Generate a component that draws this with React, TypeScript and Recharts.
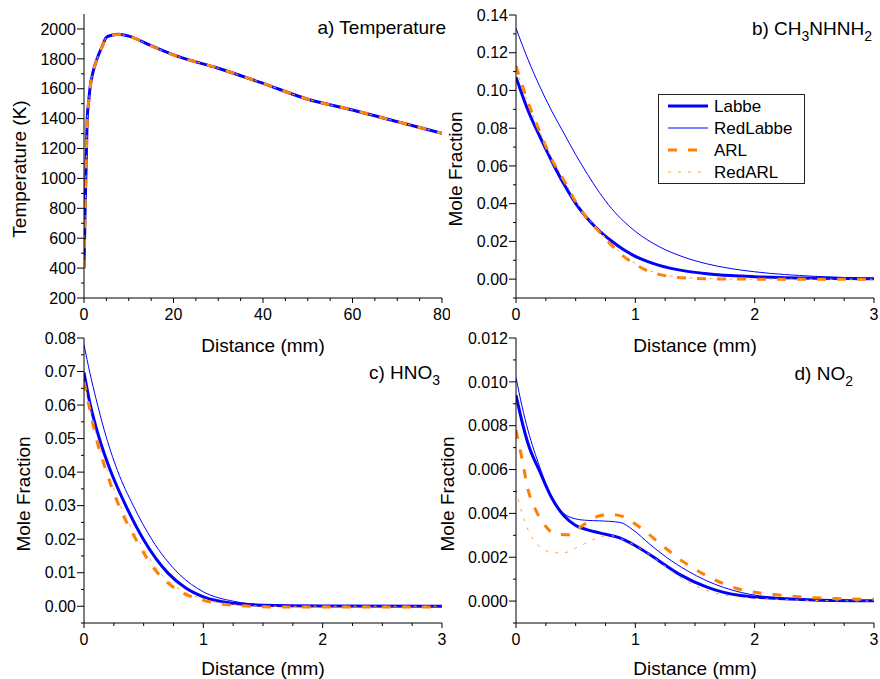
import { Legend, Line, LineChart, XAxis, YAxis } from 'recharts';

type Pt = { x: number; y: number };
const zip = (xs: number[], ys: number[]): Pt[] => xs.map((x, i) => ({ x, y: ys[i] }));

// a) Temperature (K) vs distance (mm) - all four mechanisms overlap
const tempDist = [0, 0.1, 0.25, 0.45, 0.74, 1.0, 1.34, 2.0, 2.83, 4.0, 5.0, 6.0, 7.7, 10, 15, 20, 30, 40, 50, 60, 70, 80];
const tempLabbe = [400, 550, 800, 1050, 1413, 1500, 1603, 1710, 1793, 1880, 1944, 1956, 1964, 1952, 1888, 1826, 1737, 1636, 1530, 1458, 1380, 1302];
const tempRedLabbe = [400, 550, 800, 1050, 1413, 1500, 1603, 1710, 1793, 1880, 1944, 1956, 1963, 1951, 1887, 1825, 1736, 1635, 1529, 1457, 1380, 1301];
const tempARL = [400, 545, 795, 1045, 1410, 1498, 1601, 1708, 1792, 1879, 1943, 1955, 1963, 1951, 1887, 1826, 1737, 1636, 1530, 1458, 1380, 1302];
const tempRedARL = [400, 545, 795, 1045, 1410, 1498, 1601, 1708, 1792, 1879, 1943, 1955, 1963, 1951, 1887, 1826, 1737, 1636, 1530, 1458, 1380, 1302];

// b) CH3NHNH2
const mmhLabbeX = [0, 0.1, 0.2, 0.3, 0.4, 0.5, 0.6, 0.7, 0.8, 0.9, 1.0, 1.1, 1.2, 1.4, 1.6, 1.8, 2.0, 2.5, 3.0];
const mmhLabbeY = [0.107, 0.0895, 0.0755, 0.0625, 0.0505, 0.0402, 0.032, 0.0255, 0.0202, 0.0157, 0.0121, 0.0094, 0.0073, 0.0045, 0.0029, 0.0019, 0.0013, 0.0005, 0.0002];
const mmhRedLabbeX = [0, 0.1, 0.2, 0.3, 0.4, 0.5, 0.6, 0.7, 0.8, 0.9, 1.0, 1.2, 1.4, 1.6, 1.8, 2.0, 2.5, 3.0];
const mmhRedLabbeY = [0.133, 0.1165, 0.102, 0.089, 0.0775, 0.066, 0.0555, 0.0458, 0.0375, 0.0308, 0.0253, 0.0172, 0.0118, 0.0081, 0.0056, 0.0039, 0.0015, 0.0005];
const mmhARLX = [0, 0.1, 0.2, 0.3, 0.4, 0.5, 0.6, 0.7, 0.8, 0.9, 1.0, 1.1, 1.2, 1.3, 1.45, 1.7, 2.0, 3.0];
const mmhARLY = [0.113, 0.094, 0.078, 0.0635, 0.0525, 0.041, 0.032, 0.025, 0.018, 0.0122, 0.0078, 0.0045, 0.0025, 0.0013, 0.0005, 0.0001, 0, 0];
const mmhRedARLX = [0, 0.1, 0.2, 0.3, 0.4, 0.5, 0.6, 0.7, 0.8, 0.9, 1.0, 1.1, 1.2, 1.3, 1.45, 1.7, 2.0, 3.0];
const mmhRedARLY = [0.112, 0.0935, 0.078, 0.064, 0.053, 0.0415, 0.0325, 0.0255, 0.0186, 0.0128, 0.0083, 0.005, 0.0029, 0.0016, 0.0007, 0.0002, 0, 0];

// c) HNO3
const hnoLabbeX = [0, 0.05, 0.1, 0.17, 0.232, 0.357, 0.497, 0.706, 0.85, 1.0, 1.25, 1.5, 2.0, 3.0];
const hnoLabbeY = [0.0697, 0.0605, 0.0535, 0.0455, 0.0395, 0.0295, 0.02, 0.0098, 0.0055, 0.0028, 0.0009, 0.0003, 0.0001, 0];
const hnoRedLabbeX = [0, 0.05, 0.1, 0.17, 0.28, 0.413, 0.567, 0.8, 1.0, 1.25, 1.5, 2.0, 3.0];
const hnoRedLabbeY = [0.078, 0.0695, 0.062, 0.0525, 0.0405, 0.03, 0.02, 0.0095, 0.0043, 0.0015, 0.0005, 0.0001, 0];
const hnoARLX = [0, 0.05, 0.1, 0.184, 0.293, 0.442, 0.609, 0.8, 1.0, 1.25, 1.6, 3.0];
const hnoARLY = [0.067, 0.0585, 0.0505, 0.0405, 0.03, 0.0195, 0.0103, 0.0045, 0.0018, 0.0003, -0.0002, -0.0002];
const hnoRedARLX = [0, 0.05, 0.1, 0.195, 0.305, 0.46, 0.63, 0.82, 1.02, 1.27, 1.6, 3.0];
const hnoRedARLY = [0.067, 0.059, 0.0515, 0.0405, 0.03, 0.0195, 0.0103, 0.0047, 0.002, 0.0004, 0, 0];

// d) NO2
const no2LabbeX = [0, 0.05, 0.1, 0.2, 0.3, 0.4, 0.5, 0.6, 0.7, 0.87, 1.04, 1.2, 1.37, 1.6, 1.88, 2.2, 2.5, 3.0];
const no2LabbeY = [0.0094, 0.0082, 0.0072, 0.0059, 0.0047, 0.0039, 0.00345, 0.00325, 0.00311, 0.00288, 0.0024, 0.00183, 0.00122, 0.00064, 0.00025, 0.00012, 0.00005, 0.00001];
const no2RedLabbeX = [0, 0.05, 0.1, 0.2, 0.3, 0.4, 0.5, 0.6, 0.7, 0.87, 0.98, 1.12, 1.26, 1.43, 1.6, 1.88, 2.2, 2.5, 3.0];
const no2RedLabbeY = [0.0102, 0.0089, 0.0078, 0.0061, 0.0047, 0.004, 0.00375, 0.00368, 0.00366, 0.00359, 0.00325, 0.0026, 0.002, 0.0014, 0.00092, 0.0004, 0.00015, 0.00006, 0.00001];
const no2ARLX = [0, 0.05, 0.1, 0.17, 0.25, 0.33, 0.45, 0.52, 0.6, 0.7, 0.8, 0.87, 1.05, 1.22, 1.4, 1.6, 1.88, 2.16, 2.43, 2.71, 3.0];
const no2ARLY = [0.0078, 0.0065, 0.0051, 0.0041, 0.0034, 0.00305, 0.00302, 0.0033, 0.0036, 0.00389, 0.00395, 0.0039, 0.00332, 0.00256, 0.0018, 0.00115, 0.00053, 0.0003, 0.00017, 0.00011, 0.00008];
const no2RedARLX = [0, 0.03, 0.075, 0.145, 0.23, 0.31, 0.4, 0.5, 0.62, 0.72, 0.8, 0.9, 1.04, 1.2, 1.37, 1.6, 1.88, 2.2, 2.5, 3.0];
const no2RedARLY = [0.0051, 0.0044, 0.0036, 0.0028, 0.00237, 0.0022, 0.0022, 0.00242, 0.00273, 0.00295, 0.00298, 0.0028, 0.0024, 0.0018, 0.0011, 0.00048, 0.00018, 0.00008, 0.00003, 0];

// axis ticks
const tempXMajor = [0, 20, 40, 60, 80];
const tempYMajor = [200, 400, 600, 800, 1000, 1200, 1400, 1600, 1800, 2000];
const distMajor = [0, 1, 2, 3];
const mmhYMajor = [0, 0.02, 0.04, 0.06, 0.08, 0.1, 0.12, 0.14];
const hnoYMajor = [0, 0.01, 0.02, 0.03, 0.04, 0.05, 0.06, 0.07, 0.08];
const no2YMajor = [0, 0.002, 0.004, 0.006, 0.008, 0.01, 0.012];

const FONT = '"Liberation Sans", Arial, sans-serif';
const BLUE = '#0000FF';
const ORANGE = '#FF8000';
const LIGHT_ORANGE = '#FFA040';

const minors = (major: number[], per: number, extra: number[] = []) => {
  const out: number[] = [...extra];
  for (let i = 0; i < major.length - 1; i++) {
    for (let k = 1; k < per; k++) {
      out.push(Number((major[i] + ((major[i + 1] - major[i]) * k) / per).toFixed(6)));
    }
  }
  return out;
};

const isMajor = (v: number, major: number[]) => major.some((m) => Math.abs(m - v) < 1e-9);

function xTick(major: number[]) {
  return (p: any) => {
    const v = p.payload.value;
    const big = isMajor(v, major);
    return (
      <g>
        <line x1={p.x} x2={p.x} y1={p.y} y2={p.y + (big ? 5 : 3)} stroke="#000" />
        {big && (
          <text x={p.x} y={p.y + 22} textAnchor="middle" fontSize={16} fontFamily={FONT} fill="#000">
            {String(v)}
          </text>
        )}
      </g>
    );
  };
}

function yTick(major: number[], fmt: (v: number) => string) {
  return (p: any) => {
    const v = p.payload.value;
    const big = isMajor(v, major);
    return (
      <g>
        <line x1={p.x - (big ? 7 : 3)} x2={p.x} y1={p.y} y2={p.y} stroke="#000" />
        {big && (
          <text x={p.x - 8} y={p.y} dy="0.36em" textAnchor="end" fontSize={16} fontFamily={FONT} fill="#000">
            {fmt(v)}
          </text>
        )}
      </g>
    );
  };
}

type Series = { name: string; data: Pt[] };

const styles: Record<string, { stroke: string; width: number; dash?: string }> = {
  Labbe: { stroke: BLUE, width: 3 },
  RedLabbe: { stroke: BLUE, width: 1 },
  ARL: { stroke: ORANGE, width: 3, dash: '9 11' },
  RedARL: { stroke: LIGHT_ORANGE, width: 1, dash: '3 7' },
};

function LegendBox() {
  const rows = ['Labbe', 'RedLabbe', 'ARL', 'RedARL'];
  return (
    <svg width={147} height={90} style={{ display: 'block' }}>
      <rect x={0.5} y={0.5} width={146} height={89} fill="#fff" stroke="#222" />
      {rows.map((r, i) => {
        const s = styles[r];
        const y = 12 + i * 22;
        return (
          <g key={r}>
            <line x1={10} x2={50} y1={y} y2={y} stroke={s.stroke} strokeWidth={s.width} strokeDasharray={s.dash} />
            <text x={56} y={y + 6} fontSize={17} fontFamily={FONT} fill="#000">
              {r}
            </text>
          </g>
        );
      })}
    </svg>
  );
}

type PanelProps = {
  left: number;
  top: number;
  width: number;
  height: number;
  margin: { top: number; right: number; left: number; bottom: number };
  yWidth: number;
  xHeight: number;
  xDomain: [number, number];
  xTicks: number[];
  xMajor: number[];
  yDomain: [number, number];
  yTicks: number[];
  yMajor: number[];
  yFmt: (v: number) => string;
  series: Series[];
  legend?: boolean;
};

function Panel(p: PanelProps) {
  return (
    <div style={{ position: 'absolute', left: p.left, top: p.top }}>
      <LineChart width={p.width} height={p.height} margin={p.margin}>
        <XAxis
          type="number"
          dataKey="x"
          domain={p.xDomain}
          ticks={p.xTicks}
          interval={0}
          allowDataOverflow
          height={p.xHeight}
          tickLine={false}
          tickSize={0}
          tickMargin={0}
          axisLine={{ stroke: '#000' }}
          tick={xTick(p.xMajor)}
        />
        <YAxis
          type="number"
          domain={p.yDomain}
          ticks={p.yTicks}
          interval={0}
          allowDataOverflow
          width={p.yWidth}
          tickLine={false}
          tickSize={0}
          tickMargin={0}
          axisLine={{ stroke: '#000' }}
          tick={yTick(p.yMajor, p.yFmt)}
        />
        {p.series.map((s) => {
          const st = styles[s.name];
          return (
            <Line
              key={s.name}
              name={s.name}
              data={s.data}
              dataKey="y"
              type="monotone"
              stroke={st.stroke}
              strokeWidth={st.width}
              strokeDasharray={st.dash}
              dot={false}
              activeDot={false}
              isAnimationActive={false}
            />
          );
        })}
        {p.legend && (
          <Legend
            layout="vertical"
            align="center"
            verticalAlign="middle"
            wrapperStyle={{ left: 218, top: 94, width: 147, height: 90 }}
            content={() => <LegendBox />}
          />
        )}
      </LineChart>
    </div>
  );
}

export default function App() {
  const distTicks = [...distMajor, ...minors(distMajor, 4)];
  const txt = { fontFamily: FONT, fontSize: 19, fill: '#000' };
  const sub = { fontSize: 14 };
  return (
    <div style={{ position: 'absolute', left: 0, top: 0, width: 880, height: 679, background: '#fff' }}>
      <Panel
        left={0}
        top={0}
        width={450}
        height={355}
        margin={{ top: 14, right: 8, left: 0, bottom: 0 }}
        yWidth={84}
        xHeight={57}
        xDomain={[0, 80]}
        xTicks={[...tempXMajor, ...minors(tempXMajor, 4)]}
        xMajor={tempXMajor}
        yDomain={[200, 2100]}
        yTicks={[...tempYMajor, ...minors(tempYMajor, 2)]}
        yMajor={tempYMajor}
        yFmt={(v) => String(v)}
        series={[
          { name: 'Labbe', data: zip(tempDist, tempLabbe) },
          { name: 'RedLabbe', data: zip(tempDist, tempRedLabbe) },
          { name: 'ARL', data: zip(tempDist, tempARL) },
          { name: 'RedARL', data: zip(tempDist, tempRedARL) },
        ]}
      />
      <Panel
        left={440}
        top={0}
        width={440}
        height={355}
        margin={{ top: 15, right: 6, left: 0, bottom: 0 }}
        yWidth={76}
        xHeight={57}
        xDomain={[0, 3]}
        xTicks={distTicks}
        xMajor={distMajor}
        yDomain={[-0.01, 0.14]}
        yTicks={[...mmhYMajor, ...minors(mmhYMajor, 2, [-0.01])]}
        yMajor={mmhYMajor}
        yFmt={(v) => v.toFixed(2)}
        series={[
          { name: 'Labbe', data: zip(mmhLabbeX, mmhLabbeY) },
          { name: 'RedLabbe', data: zip(mmhRedLabbeX, mmhRedLabbeY) },
          { name: 'ARL', data: zip(mmhARLX, mmhARLY) },
          { name: 'RedARL', data: zip(mmhRedARLX, mmhRedARLY) },
        ]}
        legend
      />
      <Panel
        left={0}
        top={330}
        width={450}
        height={349}
        margin={{ top: 8, right: 8, left: 0, bottom: 0 }}
        yWidth={84}
        xHeight={56}
        xDomain={[0, 3]}
        xTicks={distTicks}
        xMajor={distMajor}
        yDomain={[-0.005, 0.08]}
        yTicks={[...hnoYMajor, ...minors(hnoYMajor, 2, [-0.005])]}
        yMajor={hnoYMajor}
        yFmt={(v) => v.toFixed(2)}
        series={[
          { name: 'Labbe', data: zip(hnoLabbeX, hnoLabbeY) },
          { name: 'RedLabbe', data: zip(hnoRedLabbeX, hnoRedLabbeY) },
          { name: 'ARL', data: zip(hnoARLX, hnoARLY) },
          { name: 'RedARL', data: zip(hnoRedARLX, hnoRedARLY) },
        ]}
      />
      <Panel
        left={440}
        top={330}
        width={440}
        height={349}
        margin={{ top: 8, right: 6, left: 0, bottom: 0 }}
        yWidth={76}
        xHeight={56}
        xDomain={[0, 3]}
        xTicks={distTicks}
        xMajor={distMajor}
        yDomain={[-0.001, 0.012]}
        yTicks={[...no2YMajor, ...minors(no2YMajor, 2, [-0.001])]}
        yMajor={no2YMajor}
        yFmt={(v) => v.toFixed(3)}
        series={[
          { name: 'Labbe', data: zip(no2LabbeX, no2LabbeY) },
          { name: 'RedLabbe', data: zip(no2RedLabbeX, no2RedLabbeY) },
          { name: 'ARL', data: zip(no2ARLX, no2ARLY) },
          { name: 'RedARL', data: zip(no2RedARLX, no2RedARLY) },
        ]}
      />
      <svg width={880} height={679} style={{ position: 'absolute', left: 0, top: 0, pointerEvents: 'none' }}>
        <text x={446} y={34} textAnchor="end" {...txt}>a) Temperature</text>
        <text x={872} y={35} textAnchor="end" {...txt}>
          b) CH<tspan dy={6} {...sub}>3</tspan>
          <tspan dy={-6}>NHNH</tspan>
          <tspan dy={6} {...sub}>2</tspan>
        </text>
        <text x={440} y={379} textAnchor="end" {...txt}>
          c) HNO<tspan dy={6} {...sub}>3</tspan>
        </text>
        <text x={853} y={380} textAnchor="end" {...txt}>
          d) NO<tspan dy={6} {...sub}>2</tspan>
        </text>
        <text x={263} y={352} textAnchor="middle" {...txt}>Distance (mm)</text>
        <text x={695} y={352} textAnchor="middle" {...txt}>Distance (mm)</text>
        <text x={263} y={675} textAnchor="middle" {...txt}>Distance (mm)</text>
        <text x={695} y={675} textAnchor="middle" {...txt}>Distance (mm)</text>
        <text transform="translate(26,169) rotate(-90)" textAnchor="middle" {...txt}>Temperature (K)</text>
        <text transform="translate(462,169) rotate(-90)" textAnchor="middle" {...txt}>Mole Fraction</text>
        <text transform="translate(30,494) rotate(-90)" textAnchor="middle" {...txt}>Mole Fraction</text>
        <text transform="translate(454,494) rotate(-90)" textAnchor="middle" {...txt}>Mole Fraction</text>
      </svg>
    </div>
  );
}
